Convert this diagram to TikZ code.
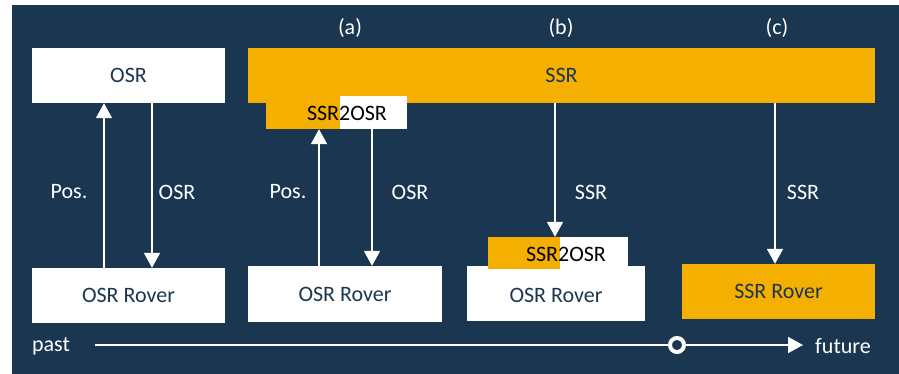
\documentclass[tikz,border=0pt]{standalone}
\usepackage{fontspec}
\setmainfont{Carlito}
\usetikzlibrary{arrows.meta}
\definecolor{navy}{HTML}{1B3650}
\definecolor{gold}{HTML}{F5AF00}
\tikzset{
  box/.style={rectangle, inner sep=0pt, text=navy, font=\fontsize{22}{26}\selectfont},
  whitebox/.style={box, fill=white},
  goldbox/.style={box, fill=gold},
  lbl/.style={text=white, inner sep=0pt, font=\fontsize{22}{26}\selectfont},
  conv/.style={inner sep=0pt, text=black, font=\fontsize{22}{26}\selectfont},
  flow/.style={draw=white, line width=1.8pt, -{Triangle[width=16pt,length=15pt]}},
}
\begin{document}
\begin{tikzpicture}[x=1pt, y=-1pt]
  \useasboundingbox (0,0) rectangle (899,374);
  \fill[white] (0,0) rectangle (899,374);
  \fill[navy] (12,5) rectangle (899,374);

  % column headers
  \node[lbl] (hA) at (350,28) {(a)};
  \node[lbl] (hB) at (561,28) {(b)};
  \node[lbl] (hC) at (777,28) {(c)};

  % services
  \node[whitebox, minimum width=193pt, minimum height=55pt] (osr) at (128.5,75.5) {OSR};
  \node[goldbox, minimum width=627pt, minimum height=55pt] (ssr) at (561.5,75.5) {SSR};

  % converter below the SSR bar, column (a)
  \node[inner sep=0pt, minimum width=141pt, minimum height=33pt] (convA) at (336.5,112.5) {};
  \fill[gold] (convA.north west |- ssr.south) rectangle (340,129);
  \fill[white] (340,96) rectangle (convA.south east);
  \node[conv] (convAtxt) at (347,113) {SSR2OSR};

  % rovers
  \node[whitebox, minimum width=193pt, minimum height=55pt] (roverL) at (128.5,295.5) {OSR Rover};
  \node[whitebox, minimum width=194pt, minimum height=56pt] (roverA) at (345,294) {OSR Rover};
  \node[whitebox, minimum width=178pt, minimum height=55pt] (roverB) at (556,293.5) {};
  \node[goldbox, minimum width=193pt, minimum height=55pt] (roverC) at (778.5,291.5) {SSR Rover};

  % converter on the rover, column (b)
  \node[inner sep=0pt, minimum width=140pt, minimum height=32pt] (convB) at (558,253) {};
  \fill[white] (560,237) rectangle (628,267);
  \fill[gold] (convB.north west) rectangle (560,269);
  \node[conv] (convBtxt) at (566,254) {SSR2OSR};
  \node[box] (roverBtxt) at (556,295) {OSR Rover};

  % message flows
  \draw[flow] (roverL.north -| 104,0) -- (osr.south -| 104,0);
  \draw[flow] (osr.south -| 152,0) -- (roverL.north -| 152,0);
  \node[lbl] (posL) at (69,192) {Pos.};
  \node[lbl] (osrL) at (177,192) {OSR};

  \draw[flow] (roverA.north -| 319,0) -- (convA.south -| 319,0);
  \draw[flow] (convA.south -| 372,0) -- (roverA.north -| 372,0);
  \node[lbl] (posA) at (288,192) {Pos.};
  \node[lbl] (osrA) at (410,192) {OSR};

  \draw[flow] (ssr.south -| 555,0) -- (convB.north -| 555,0);
  \node[lbl] (ssrB) at (591,192) {SSR};

  \draw[flow] (ssr.south -| 775,0) -- (roverC.north -| 775,0);
  \node[lbl] (ssrC) at (803,192) {SSR};

  % time axis
  \node[lbl] (past) at (51,346) {past};
  \node[lbl] (future) at (843,346) {future};
  \coordinate (tstart) at (95,345);
  \coordinate (tend) at (803,345);
  \draw[flow] (tstart) -- (tend);
  \node[circle, draw=white, fill=navy, line width=4pt, minimum size=14pt, inner sep=0pt] (now) at (677,345) {};
\end{tikzpicture}
\end{document}
